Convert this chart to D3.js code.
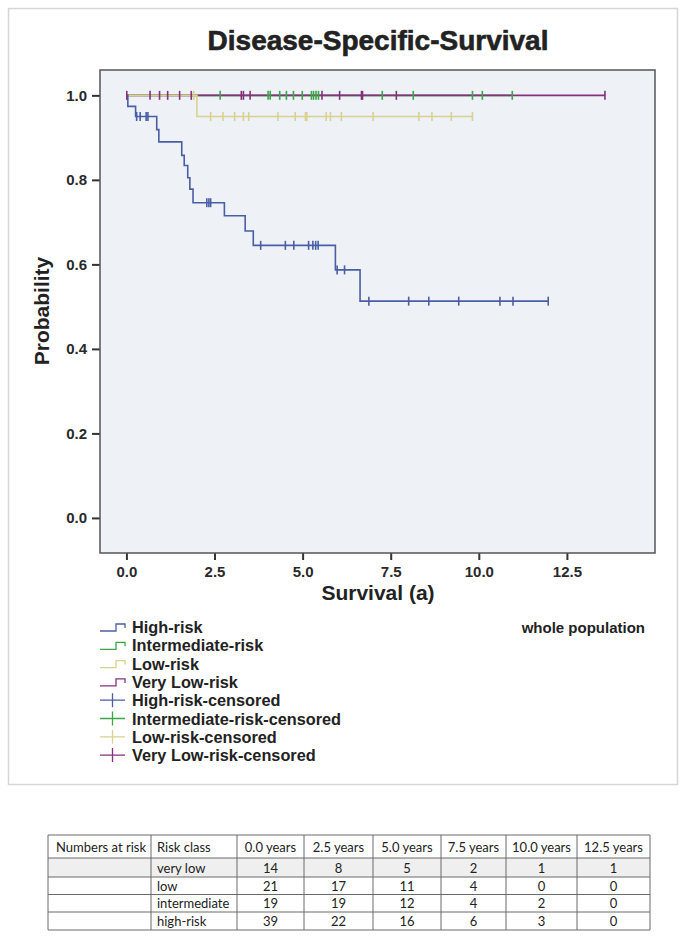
<!DOCTYPE html>
<html>
<head>
<meta charset="utf-8">
<script src="https://cdnjs.cloudflare.com/ajax/libs/d3/7.8.5/d3.min.js"></script>
<style>
  body { margin: 0; background: #fff; }
  svg text { font-family: "Liberation Sans", Arial, sans-serif; }
</style>
</head>
<body>
<div id="chart"></div>
<script>
// ---- data ----
// step points [time, survival] and censored times per risk group
var highSteps = [[0, 1], [0.04, 0.974], [0.26, 0.950], [0.86, 0.919], [0.92, 0.890], [1.57, 0.858],
  [1.64, 0.834], [1.74, 0.805], [1.80, 0.778], [1.89, 0.746], [2.78, 0.715], [3.37, 0.679],
  [3.60, 0.645], [5.93, 0.587], [6.63, 0.513]];
var highCensored = [0.29, 0.39, 0.56, 0.61, 2.28, 2.34, 2.39, 3.81, 4.51, 4.75, 5.17, 5.29, 5.37,
  5.44, 5.98, 6.19, 6.88, 8.01, 8.58, 9.43, 10.60, 10.97, 11.97];

var interSteps = [[0, 1]];
var interCensored = [2.66, 4.02, 4.08, 4.35, 4.54, 4.74, 4.99, 5.25, 5.31, 5.38, 5.45, 7.26, 8.14,
  9.82, 10.10, 10.95];

var lowSteps = [[0, 1], [2.0, 0.95]];
var lowCensored = [1.91, 2.39, 2.74, 3.07, 3.32, 3.47, 4.30, 4.79, 5.08, 5.12, 5.67, 5.79, 6.10,
  7.0, 8.30, 8.67, 9.22, 9.82];

var vlowSteps = [[0, 1]];
var vlowCensored = [0.01, 0.67, 0.94, 1.17, 1.51, 1.84, 3.26, 3.32, 3.51, 5.55, 6.05, 6.67, 6.70,
  7.66, 13.58];

var xTicks = [0, 2.5, 5, 7.5, 10, 12.5];
var yTicks = [0, 0.2, 0.4, 0.6, 0.8, 1.0];

var legendLabels = ["High-risk", "Intermediate-risk", "Low-risk", "Very Low-risk",
  "High-risk-censored", "Intermediate-risk-censored", "Low-risk-censored", "Very Low-risk-censored"];

// numbers at risk table
var tableHead = ["Numbers at risk", "Risk class", "0.0 years", "2.5 years", "5.0 years",
  "7.5 years", "10.0 years", "12.5 years"];
var riskClasses = ["very low", "low", "intermediate", "high-risk"];
var atRisk = [
  [14, 8, 5, 2, 1, 1],
  [21, 17, 11, 4, 0, 0],
  [19, 19, 12, 4, 2, 0],
  [39, 22, 16, 6, 3, 0]
];

// ---- setup ----
var svgWidth = 685, svgHeight = 937;
var box = {left: 100, top: 70, right: 655, bottom: 553};

var colors = {high: "#4a5ea6", inter: "#3aa847", low: "#d8d290", vlow: "#86307f"};

var svg = d3.select("#chart").append("svg")
  .attr("width", svgWidth)
  .attr("height", svgHeight);

// outer frame
svg.append("rect")
  .attr("x", 8.5).attr("y", 8.5)
  .attr("width", 669).attr("height", 776)
  .attr("fill", "#fff")
  .attr("stroke", "#d6d6d6")
  .attr("stroke-width", 1.5);

svg.append("text")
  .attr("x", 378).attr("y", 50)
  .attr("text-anchor", "middle")
  .attr("font-size", "28px")
  .attr("font-weight", "bold")
  .attr("fill", "#222")
  .attr("stroke", "#222")
  .attr("stroke-width", 0.6)
  .text("Disease-Specific-Survival");

var x = d3.scaleLinear().domain([-0.75, 15.0]).range([box.left, box.right]);
var y = d3.scaleLinear().domain([-0.083, 1.06]).range([box.bottom, box.top]);

// plot background
svg.append("rect")
  .attr("x", box.left).attr("y", box.top)
  .attr("width", box.right - box.left).attr("height", box.bottom - box.top)
  .attr("fill", "#eef1f6");

// axes
var xAxis = d3.axisBottom(x).tickValues(xTicks).tickFormat(d3.format(".1f")).tickSize(7).tickPadding(6);
var yAxis = d3.axisLeft(y).tickValues(yTicks).tickFormat(d3.format(".1f")).tickSize(8).tickPadding(5);

var gx = svg.append("g").attr("transform", "translate(0," + box.bottom + ")").call(xAxis);
var gy = svg.append("g").attr("transform", "translate(" + box.left + ",0)").call(yAxis);
[gx, gy].forEach(function(g) {
  g.select(".domain").remove();
  g.selectAll(".tick line").attr("stroke", "#333").attr("stroke-width", 2);
  g.selectAll(".tick text")
    .attr("font-size", "15px")
    .attr("font-weight", "bold")
    .attr("fill", "#2a2a2a");
});

// step curves
function stepPath(steps, endTime) {
  var pts = steps.map(function(s) { return [s[0], s[1]]; });
  pts.push([endTime, steps[steps.length - 1][1]]);
  return d3.line().x(function(d) { return x(d[0]); }).y(function(d) { return y(d[1]); })
    .curve(d3.curveStepAfter)(pts);
}
function survAt(steps, t) {
  var s = steps[0][1];
  steps.forEach(function(p) { if (p[0] <= t) s = p[1]; });
  return s;
}

var groups = [
  {steps: interSteps, cens: interCensored, color: colors.inter},
  {steps: vlowSteps, cens: vlowCensored, color: colors.vlow},
  {steps: lowSteps, cens: lowCensored, color: colors.low},
  {steps: highSteps, cens: highCensored, color: colors.high}
];

groups.forEach(function(g) {
  svg.append("path")
    .attr("d", stepPath(g.steps, d3.max(g.cens)))
    .attr("fill", "none")
    .attr("stroke", g.color)
    .attr("stroke-width", 1.6);
});
groups.forEach(function(g) {
  svg.selectAll(null)
    .data(g.cens)
    .enter()
    .append("line")
    .attr("x1", function(d) { return x(d); })
    .attr("x2", function(d) { return x(d); })
    .attr("y1", function(d) { return y(survAt(g.steps, d)) - 4.5; })
    .attr("y2", function(d) { return y(survAt(g.steps, d)) + 4.5; })
    .attr("stroke", g.color)
    .attr("stroke-width", 1.6);
});

// box border
svg.append("rect")
  .attr("x", box.left).attr("y", box.top)
  .attr("width", box.right - box.left).attr("height", box.bottom - box.top)
  .attr("fill", "none")
  .attr("stroke", "#555")
  .attr("stroke-width", 1.5);

// axis labels
svg.append("text")
  .attr("x", 378).attr("y", 600)
  .attr("text-anchor", "middle")
  .attr("font-size", "21px")
  .attr("font-weight", "bold")
  .attr("fill", "#222")
  .text("Survival (a)");

svg.append("text")
  .attr("transform", "translate(49,311) rotate(-90)")
  .attr("text-anchor", "middle")
  .attr("font-size", "21px")
  .attr("font-weight", "bold")
  .attr("fill", "#222")
  .text("Probability");

// legend
var legendColors = [colors.high, colors.inter, colors.low, colors.vlow,
  colors.high, colors.inter, colors.low, colors.vlow];
var legend = svg.append("g");
legendLabels.forEach(function(lab, i) {
  var cy = 627 + i * 18.3;
  if (i < 4) {
    legend.append("path")
      .attr("d", "M100," + (cy + 4) + "H116V" + (cy - 3) + "H125V" + (cy + 1))
      .attr("fill", "none")
      .attr("stroke", legendColors[i])
      .attr("stroke-width", 1.3);
  } else {
    legend.append("path")
      .attr("d", "M100," + cy + "H125M112.5," + (cy - 7) + "V" + (cy + 7))
      .attr("fill", "none")
      .attr("stroke", legendColors[i])
      .attr("stroke-width", 1.3);
  }
  legend.append("text")
    .attr("x", 132).attr("y", cy + 6)
    .attr("font-size", "16.3px")
    .attr("font-weight", "bold")
    .attr("fill", "#222")
    .text(lab);
});

svg.append("text")
  .attr("x", 645).attr("y", 633)
  .attr("text-anchor", "end")
  .attr("font-size", "15px")
  .attr("font-weight", "bold")
  .attr("fill", "#222")
  .text("whole population");

// numbers at risk table
var colEdges = [48, 151, 237, 304, 373, 441, 506, 577, 650];
var rowEdges = [835, 858, 877, 894.5, 912, 930];
var table = svg.append("g");

table.append("rect")
  .attr("x", colEdges[0]).attr("y", rowEdges[1])
  .attr("width", colEdges[8] - colEdges[0]).attr("height", rowEdges[2] - rowEdges[1])
  .attr("fill", "#efefef");

var rows = [tableHead].concat(riskClasses.map(function(rc, i) {
  return [""].concat([rc]).concat(atRisk[i].map(String));
}));
rows.forEach(function(r, ri) {
  r.forEach(function(cell, ci) {
    var left = ci < 2;
    table.append("text")
      .attr("x", left ? colEdges[ci] + (ci === 0 ? 8 : 6) : (colEdges[ci] + colEdges[ci + 1]) / 2)
      .attr("y", (rowEdges[ri] + rowEdges[ri + 1]) / 2 + 5)
      .attr("text-anchor", left ? "start" : "middle")
      .style("font-family", "Lato, sans-serif")
      .attr("font-size", "13px")
      .attr("fill", "#222")
      .text(cell);
  });
});
rowEdges.forEach(function(ry) {
  table.append("line")
    .attr("x1", colEdges[0]).attr("x2", colEdges[8])
    .attr("y1", ry).attr("y2", ry)
    .attr("stroke", "#6a6a6a").attr("stroke-width", 1);
});
colEdges.forEach(function(cx) {
  table.append("line")
    .attr("x1", cx).attr("x2", cx)
    .attr("y1", rowEdges[0]).attr("y2", rowEdges[5])
    .attr("stroke", "#6a6a6a").attr("stroke-width", 1);
});
</script>
</body>
</html>
